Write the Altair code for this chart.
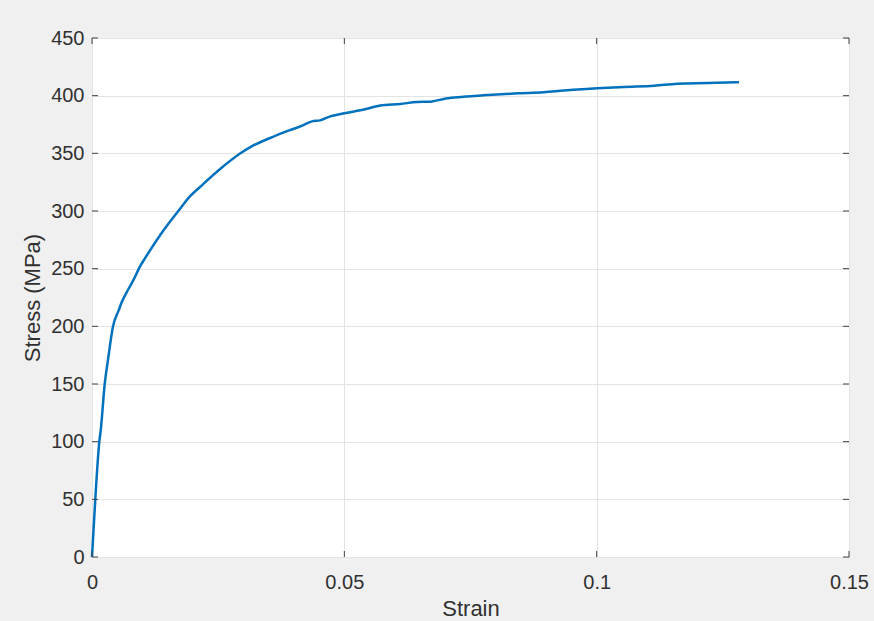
import altair as alt
import pandas as pd

strain = [0.0, 0.00065, 0.00145, 0.00173, 0.00252, 0.00317, 0.00417, 0.0053, 0.0058,
          0.00714, 0.0082, 0.00952, 0.0105, 0.0138, 0.0171, 0.0194, 0.0214, 0.0251,
          0.0294, 0.0318, 0.0353, 0.038, 0.0413, 0.0436, 0.0452, 0.0472, 0.0503,
          0.0532, 0.0571, 0.0611, 0.0644, 0.0671, 0.0697, 0.0724, 0.0776, 0.0843,
          0.0895, 0.0935, 0.1001, 0.1054, 0.1114, 0.1160, 0.1220, 0.1282]
stress = [0, 50, 100, 110, 150, 171, 200, 214, 220,
          231.7, 240, 252, 259, 281, 300, 312.7, 320.8, 335.3,
          350, 356.5, 363.3, 368.2, 373.4, 377.7, 378.6, 382, 385,
          387.3, 391.4, 392.8, 394.5, 394.8, 397.2, 398.6, 400.3, 402,
          403, 404.4, 406.4, 407.6, 408.7, 410.4, 411, 411.6]

x_ticks = [0, 0.05, 0.1, 0.15]
y_ticks = [0, 50, 100, 150, 200, 250, 300, 350, 400, 450]

W, H = 757, 519
df = pd.DataFrame({"strain": strain, "stress": stress})
xt = pd.DataFrame({"strain": x_ticks})
yt = pd.DataFrame({"stress": y_ticks})

xs = alt.Scale(domain=[0, 0.15], nice=False, zero=False)
ys = alt.Scale(domain=[0, 450], nice=False)
font = "Liberation Sans"
tc = "#303030"

xaxis = alt.Axis(values=x_ticks, labelPadding=15, titlePadding=6,
                 labelExpr="datum.value == 0 ? '0' : format(datum.value, '~g')")
yaxis = alt.Axis(values=y_ticks, labelPadding=8, titlePadding=6)

line = alt.Chart(df).mark_line(color="#0072BD", strokeWidth=2.5,
                               interpolate="monotone").encode(
    x=alt.X("strain:Q", scale=xs, title="Strain", axis=xaxis),
    y=alt.Y("stress:Q", scale=ys, title="Stress (MPa)", axis=yaxis),
)

tk = "#404040"
xb = alt.Chart(xt).mark_rule(color=tk, strokeWidth=1).encode(
    x=alt.X("strain:Q", scale=xs, title="Strain", axis=xaxis),
    y=alt.value(H), y2=alt.value(H - 6))
xtop = alt.Chart(xt).mark_rule(color=tk, strokeWidth=1).encode(
    x=alt.X("strain:Q", scale=xs, title="Strain", axis=xaxis),
    y=alt.value(0), y2=alt.value(6))
yl = alt.Chart(yt).mark_rule(color=tk, strokeWidth=1).encode(
    y=alt.Y("stress:Q", scale=ys, title="Stress (MPa)", axis=yaxis),
    x=alt.value(0), x2=alt.value(6))
yr = alt.Chart(yt).mark_rule(color=tk, strokeWidth=1).encode(
    y=alt.Y("stress:Q", scale=ys, title="Stress (MPa)", axis=yaxis),
    x=alt.value(W), x2=alt.value(W - 6))

chart = alt.layer(line, xb, xtop, yl, yr).properties(
    width=W, height=H,
    background="#f0f0f0",
    autosize=alt.AutoSizeParams(type="none"),
    padding={"left": 92, "top": 38, "right": 25, "bottom": 64},
).configure_view(
    fill="white", stroke="#5a5a5a", strokeWidth=1
).configure_axis(
    tickSize=0, domain=False, grid=True, gridColor="#e3e3e3",
    labelFontSize=20, labelColor=tc, labelFont=font, labelFlush=False,
    titleFont=font, titleFontSize=22, titleFontWeight="normal", titleColor=tc,
)

chart.save("out.html", embed_options={"renderer": "svg", "actions": False})
